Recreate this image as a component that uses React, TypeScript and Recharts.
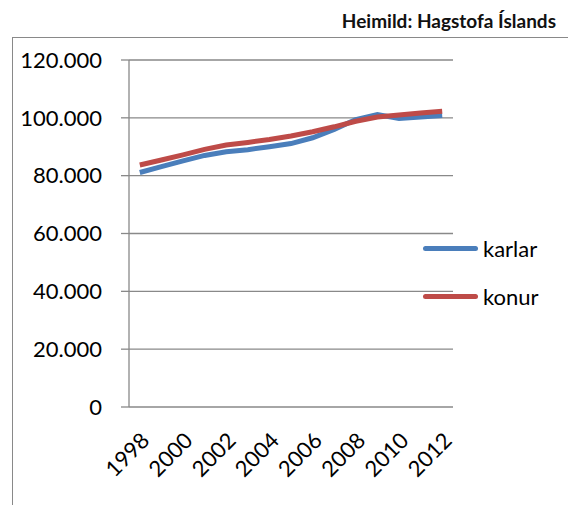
import { LineChart, Line, XAxis, YAxis, CartesianGrid } from "recharts";

const years = [1998, 1999, 2000, 2001, 2002, 2003, 2004, 2005, 2006, 2007, 2008, 2009, 2010, 2011, 2012];
const karlar = [81100, 83100, 85100, 87000, 88300, 89000, 90000, 91100, 93100, 96000, 99400, 101100, 99800, 100300, 100800];
const konur = [83700, 85400, 87200, 89100, 90600, 91500, 92500, 93700, 95200, 96900, 98800, 100300, 101000, 101700, 102300];

const yearLabels = [1998, 2000, 2002, 2004, 2006, 2008, 2010, 2012];
const bandEdges = [1997.5, 1998.5, 1999.5, 2000.5, 2001.5, 2002.5, 2003.5, 2004.5, 2005.5, 2006.5, 2007.5, 2008.5, 2009.5, 2010.5, 2011.5, 2012.5];
const yTicks = [0, 20000, 40000, 60000, 80000, 100000, 120000];

const seriesNames = ["karlar", "konur"];
const seriesColors = ["#4A7EBB", "#BE4B48"];

const data = years.map((year, i) => ({ year, karlar: karlar[i], konur: konur[i] }));

const FONT = "Lato, 'Open Sans', sans-serif";
const GRID = "#898989";

const fmt = (v: number) => String(v).replace(/\B(?=(\d{3})+(?!\d))/g, ".");

export default function App() {
  return (
    <div style={{ position: "absolute", left: 0, top: 0, width: 568, height: 505, background: "#fff", fontFamily: FONT, overflow: "hidden" }}>
      <div
        style={{
          position: "absolute",
          right: 12,
          top: 9,
          fontSize: 19,
          fontWeight: 700,
          color: "#111",
        }}
      >
        Heimild: Hagstofa Íslands
      </div>
      <div
        style={{
          position: "absolute",
          left: 12,
          top: 37,
          width: 600,
          height: 500,
          borderLeft: `1.5px solid ${GRID}`,
          borderTop: `1.5px solid ${GRID}`,
        }}
      />
      <div style={{ position: "absolute", left: 0, top: 0 }}>
        <LineChart width={568} height={505} data={data} margin={{ top: 60, right: 115, bottom: 0, left: 0 }}>
          <CartesianGrid horizontal vertical={false} stroke={GRID} strokeWidth={1.3} />
          <YAxis
            type="number"
            domain={[0, 120000]}
            ticks={yTicks}
            width={129}
            tickFormatter={fmt}
            tickSize={8}
            tickMargin={19}
            axisLine={{ stroke: GRID, strokeWidth: 1.3 }}
            tickLine={{ stroke: GRID, strokeWidth: 1.3 }}
            tick={{ fill: "#000", fontSize: 22, fontFamily: FONT }}
          />
          <XAxis
            dataKey="year"
            type="number"
            domain={[1997.5, 2012.5]}
            ticks={bandEdges}
            height={0}
            tick={false}
            tickSize={8}
            axisLine={{ stroke: GRID, strokeWidth: 1.3 }}
            tickLine={{ stroke: GRID, strokeWidth: 1.3 }}
          />
          <XAxis
            xAxisId="lab"
            dataKey="year"
            type="number"
            domain={[1997.5, 2012.5]}
            ticks={yearLabels}
            interval={0}
            height={98}
            axisLine={false}
            tickLine={false}
            tickSize={0}
            tickMargin={24}
            angle={-45}
            textAnchor="end"
            tick={{ fill: "#000", fontSize: 22, fontFamily: FONT }}
          />
          <Line dataKey="karlar" stroke={seriesColors[0]} strokeWidth={5} dot={false} type="linear" isAnimationActive={false} />
          <Line dataKey="konur" stroke={seriesColors[1]} strokeWidth={5} dot={false} type="linear" isAnimationActive={false} />
        </LineChart>
      </div>
      {seriesNames.map((name, i) => (
        <div key={name} style={{ position: "absolute", left: 423, top: 234 + i * 48, display: "flex", alignItems: "center", height: 28 }}>
          <div style={{ width: 55, height: 5, borderRadius: 3, background: seriesColors[i] }} />
          <span style={{ marginLeft: 5, fontSize: 22, color: "#000" }}>{name}</span>
        </div>
      ))}
    </div>
  );
}
